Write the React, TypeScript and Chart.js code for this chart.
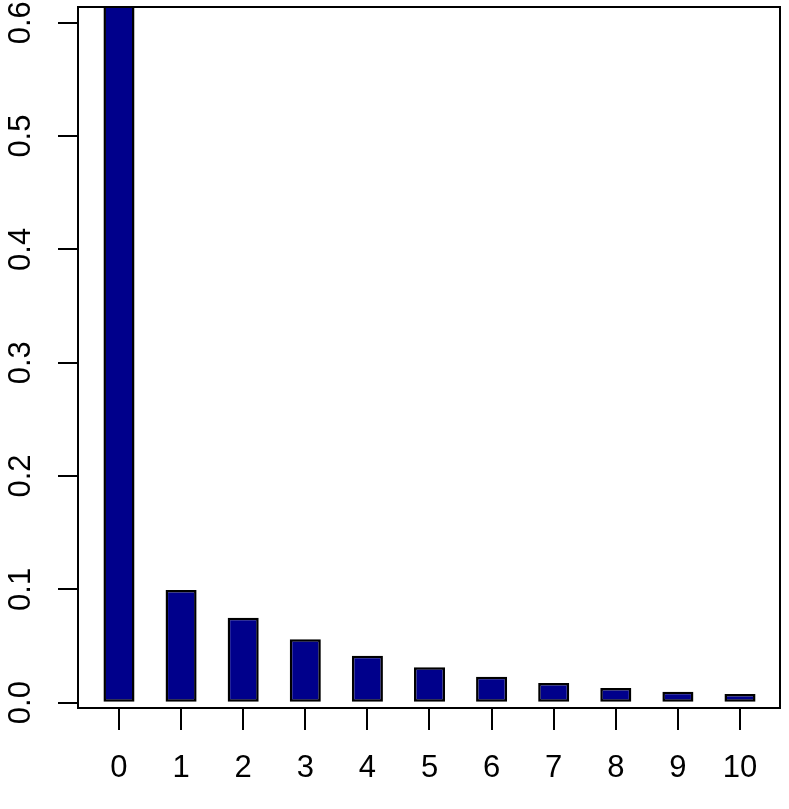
import React, { useEffect, useRef } from "react";
import { Chart, registerables } from "chart.js";

Chart.register(...registerables);

const categories = [0, 1, 2, 3, 4, 5, 6, 7, 8, 9, 10];
const values = [0.62, 0.0994, 0.075, 0.0559, 0.0415, 0.0312, 0.0229, 0.0174, 0.013, 0.0097, 0.0077];
const yTicks = [0, 0.1, 0.2, 0.3, 0.4, 0.5, 0.6];
const yTickLabels = ["0.0", "0.1", "0.2", "0.3", "0.4", "0.5", "0.6"];
const xTickLabels = categories.map((c) => String(c));

const FONT = "31px 'Liberation Sans', Arial, Helvetica, sans-serif";

const boxAndLabels = {
  id: "boxAndLabels",
  afterDraw(chart: any) {
    const { ctx, chartArea, scales } = chart;
    ctx.save();
    ctx.strokeStyle = "#000";
    ctx.lineWidth = 2;
    ctx.strokeRect(chartArea.left, chartArea.top, chartArea.right - chartArea.left, chartArea.bottom - chartArea.top);
    ctx.fillStyle = "#000";
    ctx.font = FONT;
    ctx.textAlign = "center";
    ctx.textBaseline = "middle";
    categories.forEach((c, i) => {
      const x = scales.x.getPixelForValue(c);
      ctx.fillText(xTickLabels[i], x, 768);
    });
    yTicks.forEach((v, i) => {
      const y = scales.y.getPixelForValue(v);
      ctx.save();
      ctx.translate(21, y);
      ctx.rotate(-Math.PI / 2);
      ctx.fillText(yTickLabels[i], 0, 0);
      ctx.restore();
    });
    ctx.restore();
  },
};

export default function App() {
  const ref = useRef<HTMLCanvasElement>(null);
  useEffect(() => {
    if (!ref.current) return;
    const chart = new Chart(ref.current, {
      type: "bar",
      data: {
        datasets: [
          {
            data: categories.map((c, i) => ({ x: c, y: values[i] })),
            backgroundColor: "#00008B",
            borderColor: "#000000",
            borderWidth: 2.5,
            borderSkipped: false,
            barPercentage: 0.5,
            categoryPercentage: 1,
            clip: 0,
          } as any,
        ],
      },
      options: {
        responsive: false,
        animation: false,
        layout: { padding: { top: 7, right: 9, left: 0, bottom: 0 } },
        plugins: { legend: { display: false }, tooltip: { enabled: false } },
        scales: {
          x: {
            type: "linear",
            min: -0.66,
            max: 10.644,
            offset: false,
            afterBuildTicks: (s: any) => {
              s.ticks = categories.map((c) => ({ value: c }));
            },
            afterFit: (s: any) => {
              s.height = 101;
            },
            grid: {
              display: true,
              offset: false,
              drawOnChartArea: false,
              drawTicks: true,
              tickLength: 22,
              color: "#000",
              lineWidth: 2,
            },
            border: { display: false },
            ticks: { display: false },
          },
          y: {
            type: "linear",
            min: -0.0047,
            max: 0.6139,
            afterBuildTicks: (s: any) => {
              s.ticks = yTicks.map((v) => ({ value: v }));
            },
            afterFit: (s: any) => {
              s.width = 78;
            },
            grid: {
              display: true,
              drawOnChartArea: false,
              drawTicks: true,
              tickLength: 20,
              color: "#000",
              lineWidth: 2,
            },
            border: { display: false },
            ticks: { display: false },
          },
        },
      } as any,
      plugins: [boxAndLabels],
    });
    return () => chart.destroy();
  }, []);
  return (
    <div style={{ position: "fixed", left: 0, top: 0, width: 789, height: 809, background: "#fff" }}>
      <canvas ref={ref} width={789} height={809} style={{ display: "block" }} />
    </div>
  );
}
